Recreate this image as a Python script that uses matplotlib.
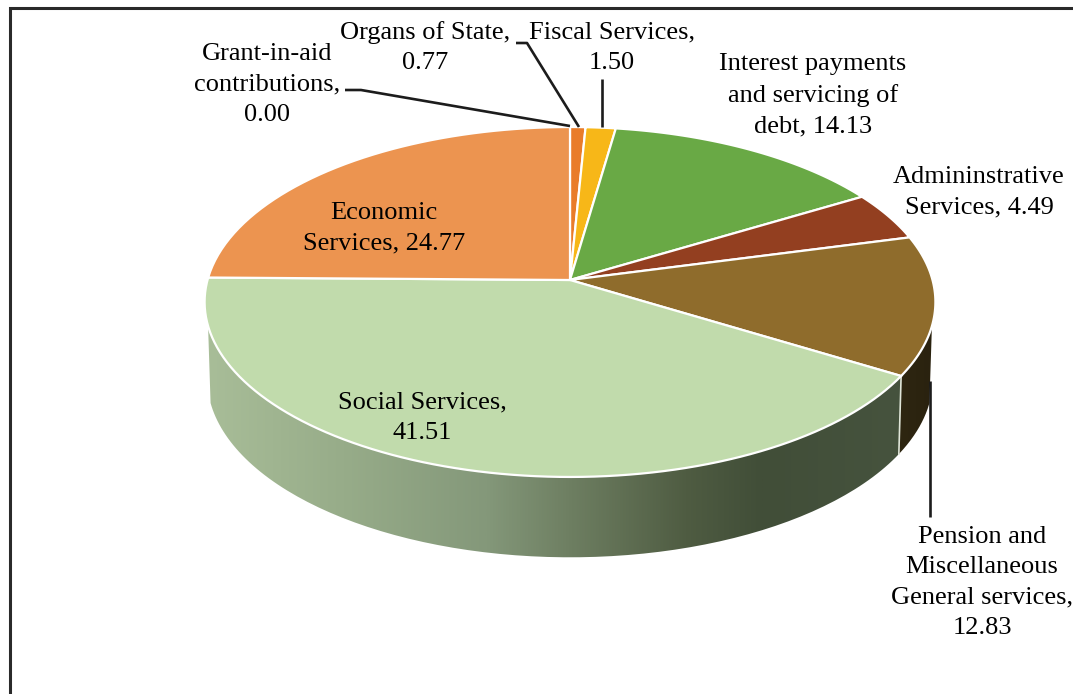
import numpy as np
import matplotlib
matplotlib.use("Agg")
import matplotlib.pyplot as plt
from matplotlib.colors import LinearSegmentedColormap
from matplotlib.patches import PathPatch
from matplotlib.path import Path
from matplotlib.transforms import Transform

# Expenditure shares, clockwise from twelve o'clock
categories = ["Grant-in-aid contributions", "Organs of State", "Fiscal Services",
              "Interest payments and servicing of debt", "Admininstrative Services",
              "Pension and Miscellaneous General services", "Social Services",
              "Economic Services"]
shares = [0.00, 0.77, 1.50, 14.13, 4.49, 12.83, 41.51, 24.77]
top_colors = ["#5b9bd5", "#e97c2a", "#f7b718", "#69a945", "#933f20",
              "#8f6c2c", "#c1dbac", "#ec9450"]

labels = ["Grant-in-aid\ncontributions,\n0.00", "Organs of State,\n0.77",
          "Fiscal Services,\n1.50", "Interest payments\nand servicing of\ndebt, 14.13",
          "Admininstrative\nServices, 4.49",
          "Pension and\nMiscellaneous\nGeneral services,\n12.83",
          "Social Services,\n41.51", "Economic\nServices, 24.77"]
label_xy = [(267, 84.5), (425, 47.5), (612, 47.5), (813, 95.5),
            (979, 192.5), (982, 582.5), (422, 418), (384, 228.5)]

CX, CY = 570.0, 280.0
TILT = 0.1257
TOP_A, TOP_B = 362.5, 172.2
BASE_A, BASE_B, BASE_Y = 360.0, 176.0, 356.0


class TiltedDisc(Transform):
    """Perspective view of a flat disc lying in the plane of the unit circle."""
    input_dims = output_dims = 2

    def __init__(self, a, b, cx, cy):
        super().__init__()
        self.a, self.b, self.cx, self.cy = a, b, cx, cy

    def transform_non_affine(self, values):
        values = np.asarray(values, dtype=float)
        w = 1 + TILT * values[:, 1]
        return np.column_stack([self.cx + self.a * values[:, 0] / w,
                                self.cy - self.b * values[:, 1] / w])

    def transform_path_non_affine(self, path):
        # Flatten the curves first so the perspective bends them correctly
        steps = np.linspace(0, 1, 24)
        pieces = [segment(steps) for segment, _ in path.iter_bezier()]
        points = np.vstack(pieces)
        return Path(self.transform_non_affine(np.vstack([points, points[:1]])), closed=True)


top_disc = TiltedDisc(TOP_A, TOP_B, CX, CY)
base_disc = TiltedDisc(BASE_A, BASE_B, CX, BASE_Y)


def rim(disc, start, stop):
    """Points along a disc rim between two clockwise bearings in degrees."""
    t = np.radians(np.linspace(start, stop, 120))
    return disc.transform_non_affine(np.column_stack([np.sin(t), np.cos(t)]))


fig = plt.figure(figsize=(10.73, 6.94), dpi=100, facecolor="white")
ax = fig.add_axes([0, 0, 1, 1])

wedges, _ = ax.pie(shares, colors=top_colors, startangle=90, counterclock=False,
                   radius=1, wedgeprops=dict(edgecolor="white", linewidth=1.6))
for wedge in wedges:
    wedge.set_transform(top_disc + ax.transData)
    wedge.set_zorder(5)

# Outer wall: only the near part of the rim is visible
bearings = np.concatenate([[0], np.cumsum(shares)]) * 3.6
VISIBLE = (105.0, 255.0)
wall_shades = {
    5: [(0, "#2e2611"), (1, "#2a220f")],
    6: [(0, "#a8bd98"), (0.195, "#97ac89"), (0.40, "#84987a"), (0.52, "#6e7f62"),
        (0.69, "#4f5c42"), (0.80, "#414e38"), (1, "#46533e")],
}
for i, shades in wall_shades.items():
    lo, hi = max(bearings[i], VISIBLE[0]), min(bearings[i + 1], VISIBLE[1])
    outline = np.vstack([rim(top_disc, lo, hi), rim(base_disc, hi, lo)])
    clip = PathPatch(Path(outline, closed=False), transform=ax.transData,
                     facecolor="none", edgecolor="none")
    ax.add_patch(clip)
    cmap = LinearSegmentedColormap.from_list("wall", shades)
    image = ax.imshow(np.linspace(0, 1, 512)[None, :], cmap=cmap, aspect="auto",
                      extent=(outline[:, 0].min(), outline[:, 0].max(), 600, 280), zorder=2)
    image.set_clip_path(clip)

# Seam between the two wall sections
seam = bearings[6]
ax.plot(*np.vstack([rim(top_disc, seam, seam)[0], rim(base_disc, seam, seam)[0]]).T,
        color="#dfe5d8", lw=1.2, zorder=3)

ax.set(xlim=(0, 1073), ylim=(694, 0), aspect="auto", xticks=[], yticks=[])
ax.set_frame_on(False)

# Leader lines
leaders = [[(345, 90), (361, 90), (570, 126)],
           [(516, 43), (527, 43), (579, 127)],
           [(601.5, 79), (601.5, 127)],
           [(930, 381), (930, 517)]]
for line in leaders:
    ax.plot(*zip(*line), color="#1c1c1c", lw=1.9, zorder=6, solid_capstyle="butt")

for text, (x, y) in zip(labels, label_xy):
    ax.text(x, y, text, ha="center", va="center", family="Liberation Serif",
            fontsize=19, linespacing=1.5, color="black", zorder=7)

# Chart-area border, visible along the left and top
ax.plot([9.5, 9.5, 1073], [694, 8, 8], color="#2a2a2a", lw=2.2, zorder=8,
        solid_joinstyle="miter")

fig.savefig("out.png", dpi=100, facecolor="white")
